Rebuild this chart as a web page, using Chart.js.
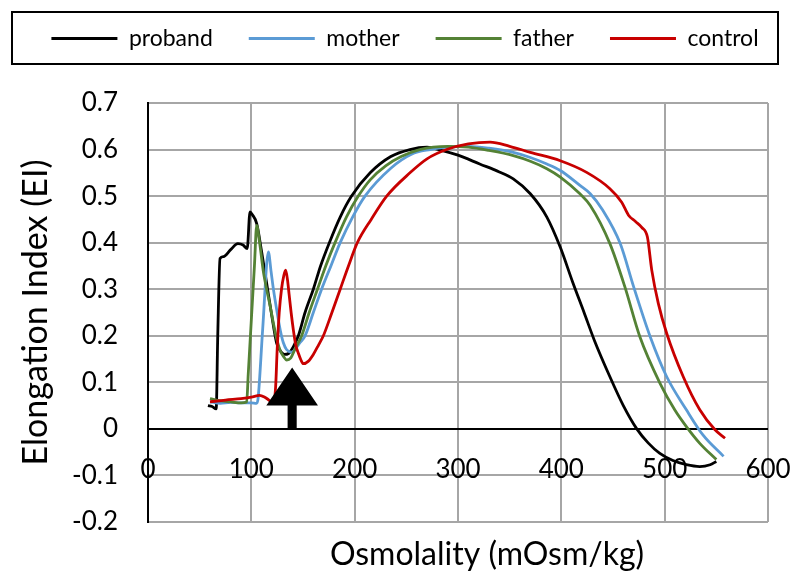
<!DOCTYPE html>
<html><head><meta charset="utf-8">
<script src="https://cdn.jsdelivr.net/npm/chart.js@4.4.1/dist/chart.umd.min.js"></script>
<style>html,body{margin:0;padding:0;background:#fff;}</style>
</head><body>
<canvas id="c" width="800" height="583"></canvas>
<script>
const seriesNames = ['proband', 'mother', 'father', 'control'];
const seriesColors = ['#000000', '#5B9BD5', '#548235', '#C80000'];

const probandX = [58, 62, 66, 67.5, 69.7, 73, 80, 87, 92, 96, 98.7, 101, 105.2, 110, 114.9, 120, 124.5, 128, 132, 136, 141, 145.5, 152, 160, 167, 175.5, 186, 197, 215, 235, 253.5, 270, 283, 300, 321, 340, 353.5, 370, 386, 399, 411, 422, 432, 447, 460, 473, 484, 495, 508, 521, 534, 544, 550];
const probandY = [0.05, 0.048, 0.043, 0.2, 0.366, 0.37, 0.385, 0.398, 0.395, 0.387, 0.466, 0.46, 0.441, 0.38, 0.312, 0.24, 0.184, 0.168, 0.16, 0.162, 0.178, 0.2, 0.25, 0.3, 0.35, 0.4, 0.455, 0.5, 0.55, 0.585, 0.6, 0.605, 0.599, 0.588, 0.569, 0.552, 0.537, 0.505, 0.455, 0.39, 0.315, 0.25, 0.19, 0.112, 0.05, 0.0, -0.03, -0.052, -0.068, -0.077, -0.081, -0.077, -0.07];

const motherX = [60, 70, 80, 90, 100, 105, 106.5, 111, 116.5, 119, 121.5, 125, 128, 131, 134.2, 139, 142, 147, 152, 160, 168, 177, 186, 198, 210, 235, 255, 273, 290, 310, 330, 353.5, 370, 386, 399, 418, 428, 440, 457, 470, 486, 502, 521, 537, 557];
const motherY = [0.058, 0.055, 0.057, 0.056, 0.056, 0.055, 0.065, 0.215, 0.38, 0.34, 0.298, 0.25, 0.212, 0.185, 0.17, 0.165, 0.17, 0.185, 0.2, 0.25, 0.3, 0.35, 0.4, 0.455, 0.5, 0.56, 0.59, 0.6, 0.605, 0.607, 0.603, 0.594, 0.583, 0.569, 0.555, 0.523, 0.505, 0.47, 0.398, 0.305, 0.198, 0.112, 0.041, -0.013, -0.059];

const fatherX = [60, 70, 80, 90, 95.5, 97, 100, 103, 105.2, 108, 111.9, 115, 118.4, 121.5, 124.9, 128, 131.3, 134.2, 138, 143, 148.7, 156, 164, 172, 181, 192, 203.5, 215, 230, 245, 263, 290, 310, 330, 353.5, 370, 386, 399, 418, 428, 447, 461.5, 476, 495.5, 510, 521, 534, 550];
const fatherY = [0.065, 0.06, 0.058, 0.056, 0.058, 0.117, 0.234, 0.35, 0.437, 0.4, 0.334, 0.298, 0.262, 0.225, 0.19, 0.168, 0.155, 0.148, 0.152, 0.175, 0.2, 0.25, 0.3, 0.35, 0.4, 0.455, 0.5, 0.535, 0.565, 0.585, 0.6, 0.607, 0.605, 0.598, 0.587, 0.575, 0.559, 0.541, 0.505, 0.48, 0.398, 0.305, 0.198, 0.098, 0.04, 0.005, -0.031, -0.066];

const controlX = [60, 75, 90, 100, 108, 113, 117, 121.3, 123.5, 125, 127, 129.2, 131.5, 133.2, 135, 136.5, 138.5, 140.7, 143, 145.6, 148, 150.3, 155, 160, 165, 169.7, 178, 186, 194, 202.6, 216, 231, 253.5, 270, 289, 310, 331, 350, 370, 399, 424.5, 447, 458.4, 465, 472, 477.8, 483.3, 487.5, 493.9, 502, 518, 534, 548.7, 558.4];
const controlY = [0.058, 0.062, 0.065, 0.068, 0.072, 0.068, 0.062, 0.055, 0.09, 0.17, 0.25, 0.3, 0.33, 0.341, 0.32, 0.29, 0.25, 0.212, 0.18, 0.162, 0.148, 0.14, 0.145, 0.16, 0.18, 0.2, 0.25, 0.3, 0.35, 0.4, 0.45, 0.5, 0.55, 0.58, 0.6, 0.612, 0.616, 0.607, 0.594, 0.576, 0.551, 0.516, 0.487, 0.459, 0.445, 0.433, 0.412, 0.341, 0.269, 0.205, 0.112, 0.041, -0.002, -0.02];

const xTicks = [0, 100, 200, 300, 400, 500, 600];
const yTicks = [-0.2, -0.1, 0, 0.1, 0.2, 0.3, 0.4, 0.5, 0.6, 0.7];
const xTitle = 'Osmolality (mOsm/kg)';
const yTitle = 'Elongation Index (EI)';
// arrow marker: x position, tip value, head base value, foot value, half widths (x units)
const arrowSpec = { x: 139.5, tip: 0.132, base: 0.05, foot: 0, headHalf: 25, shaftHalf: 4.4 };

const FONT = 'Lato, "Open Sans", sans-serif';
const GRID = '#A6A6A6';
const INK = '#000';

function pts(xs, ys) { return xs.map((x, i) => ({ x: x, y: ys[i] })); }
const seriesData = [pts(probandX, probandY), pts(motherX, motherY), pts(fatherX, fatherY), pts(controlX, controlY)];

const datasets = seriesNames.map((name, i) => ({
  label: name,
  data: seriesData[i],
  borderColor: seriesColors[i],
  backgroundColor: seriesColors[i],
  borderWidth: 2.8,
  pointRadius: 0,
  fill: false,
  cubicInterpolationMode: 'monotone',
  xAxisID: 'x',
  yAxisID: 'y',
  order: seriesNames.length - i
}));

const legendFrame = {
  id: 'legendFrame',
  afterDraw(chart) {
    const ctx = chart.ctx;
    ctx.save();
    ctx.strokeStyle = '#000';
    ctx.lineWidth = 2;
    ctx.strokeRect(12, 12, 766, 52);
    ctx.restore();
  }
};

const arrowPlugin = {
  id: 'arrowMark',
  afterDatasetsDraw(chart) {
    const xs = chart.scales.x, ys = chart.scales.y, ctx = chart.ctx;
    const cx = xs.getPixelForValue(arrowSpec.x);
    const hw = xs.getPixelForValue(arrowSpec.x + arrowSpec.headHalf) - cx;
    const sw = xs.getPixelForValue(arrowSpec.x + arrowSpec.shaftHalf) - cx;
    const tipY = ys.getPixelForValue(arrowSpec.tip);
    const baseY = ys.getPixelForValue(arrowSpec.base);
    const footY = ys.getPixelForValue(arrowSpec.foot);
    ctx.save();
    ctx.fillStyle = '#000';
    ctx.beginPath();
    ctx.moveTo(cx, tipY);
    ctx.lineTo(cx + hw, baseY);
    ctx.lineTo(cx + sw, baseY);
    ctx.lineTo(cx + sw, footY);
    ctx.lineTo(cx - sw, footY);
    ctx.lineTo(cx - sw, baseY);
    ctx.lineTo(cx - hw, baseY);
    ctx.closePath();
    ctx.fill();
    ctx.restore();
  }
};

const xTitlePlugin = {
  id: 'xTitleText',
  afterDraw(chart) {
    const ctx = chart.ctx;
    ctx.save();
    ctx.fillStyle = INK;
    ctx.font = '32px ' + FONT;
    ctx.textAlign = 'center';
    ctx.textBaseline = 'middle';
    ctx.fillText(xTitle, 487, 555);
    ctx.restore();
  }
};

new Chart(document.getElementById('c'), {
  type: 'line',
  data: { datasets: datasets },
  options: {
    responsive: false,
    animation: false,
    devicePixelRatio: 1,
    layout: { padding: { top: -9, left: 10, right: 0, bottom: 0 } },
    plugins: {
      tooltip: { enabled: false },
      legend: {
        position: 'top',
        align: 'center',
        labels: {
          boxWidth: 66,
          boxHeight: 3,
          padding: 36,
          color: INK,
          font: { family: FONT, size: 23 },
          generateLabels(chart) {
            return chart.data.datasets.map((ds, i) => ({
              text: ds.label, fillStyle: ds.borderColor, strokeStyle: ds.borderColor,
              lineWidth: 0, hidden: false, datasetIndex: i, fontColor: INK
            }));
          }
        }
      }
    },
    scales: {
      x: {
        type: 'linear', min: 0, max: 600,
        position: { y: -0.0536 },
        afterBuildTicks(s) { s.ticks = xTicks.map(v => ({ value: v })); },
        ticks: { color: INK, font: { family: FONT, size: 26 }, padding: 0, maxRotation: 0 },
        grid: { drawTicks: false, lineWidth: 2, color: c => (c.tick && c.tick.value === 0) ? '#000' : GRID },
        border: { display: false }
      },
      y: {
        type: 'linear', min: -0.2, max: 0.7, position: 'left',
        afterBuildTicks(s) { s.ticks = yTicks.map(v => ({ value: v })); },
        afterFit(s) { s.width = 138; },
        ticks: { color: INK, font: { family: FONT, size: 26 }, padding: 30 },
        grid: { drawTicks: false, lineWidth: 2, color: c => (c.tick && c.tick.value === 0) ? '#000' : GRID },
        border: { display: true, color: '#000', width: 2 },
        title: { display: true, text: yTitle, color: INK, font: { family: FONT, size: 34 }, padding: { top: 6, bottom: 0 } }
      },
      xtop: {
        type: 'linear', position: 'top', display: true,
        ticks: { display: false }, grid: { display: false }, border: { display: false },
        afterFit(s) { s.height = 43; }
      },
      xbot: {
        type: 'linear', position: 'bottom', display: true,
        ticks: { display: false }, grid: { display: false }, border: { display: false },
        afterFit(s) { s.height = 61; }
      },
      yr: {
        type: 'linear', position: 'right', display: true,
        ticks: { display: false }, grid: { display: false }, border: { display: false },
        afterFit(s) { s.width = 32; }
      }
    }
  },
  plugins: [legendFrame, arrowPlugin, xTitlePlugin]
});
</script>
</body></html>
